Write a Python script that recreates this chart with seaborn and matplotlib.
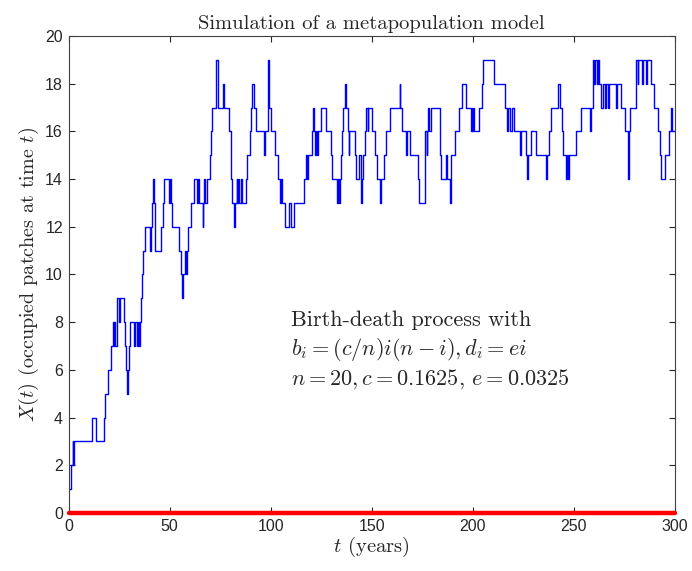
import numpy as np
import pandas as pd
import matplotlib
matplotlib.use("Agg")
import matplotlib.pyplot as plt
import seaborn as sns

# jump times (years) and the number of occupied patches right after each jump
jump_times = [0, 1.0, 2.2, 2.4, 2.7, 11.4, 13.4, 17.5, 18.3, 19.3, 21.1, 22.1, 22.4, 22.7, 23.0,
              24.1, 24.8, 25.4, 27.7, 28.2, 28.6, 29.0, 29.4, 29.9, 30.5, 32.6, 33.0, 33.8, 34.2,
              35.0, 35.4, 36.1, 36.6, 37.0, 38.0, 40.2, 40.7, 41.4, 42.0, 42.3, 42.6, 42.9, 45.8,
              46.6, 47.5, 49.8, 50.2, 50.6, 51.2, 54.7, 55.9, 56.3, 56.7, 57.5, 58.2, 58.6, 59.1,
              60.7, 62.3, 63.4, 64.0, 64.4, 66.4, 66.8, 67.3, 67.6, 68.5, 69.8, 70.6, 71.1, 72.8,
              74.2, 76.3, 77.1, 79.3, 80.5, 80.8, 81.9, 82.3, 83.2, 83.5, 84.1, 84.4, 85.4, 85.7,
              87.9, 88.4, 89.6, 90.4, 91.0, 92.0, 92.8, 96.9, 97.4, 98.6, 99.0, 99.3, 100.2, 102.2,
              103.8, 104.8, 105.2, 105.6, 107.0, 109.3, 110.1, 111.5, 116.6, 117.4, 118.2, 118.6,
              120.3, 120.8, 121.6, 122.2, 122.6, 123.0, 123.7, 125.2, 127.3, 129.8, 130.6, 133.0,
              133.5, 134.0, 134.3, 135.1, 135.5, 135.9, 136.7, 137.2, 138.4, 138.6, 139.0, 141.9,
              142.4, 143.9, 144.6, 145.1, 145.6, 146.5, 147.3, 148.0, 148.3, 150.4, 151.5, 152.9,
              154.4, 154.8, 156.0, 157.3, 159.0, 164.0, 164.3, 164.8, 167.0, 167.3, 168.9, 173.0,
              173.5, 176.3, 176.6, 177.3, 177.6, 178.0, 178.6, 179.2, 183.7, 184.5, 186.7, 187.4,
              188.6, 189.4, 191.2, 193.3, 194.8, 196.6, 199.1, 199.5, 199.8, 200.2, 200.6, 203.2,
              204.5, 205.0, 210.6, 215.9, 217.2, 217.6, 218.4, 219.5, 220.6, 223.3, 223.7, 226.6,
              226.9, 227.3, 229.0, 231.2, 236.2, 236.6, 237.8, 238.9, 242.3, 243.4, 244.2, 244.7,
              246.4, 246.7, 247.2, 247.6, 251.3, 253.8, 257.9, 258.6, 259.6, 260.0, 260.4, 261.5,
              261.9, 262.5, 263.7, 264.5, 265.6, 266.0, 266.9, 267.3, 271.1, 271.5, 273.6, 275.2,
              276.9, 277.3, 278.0, 281.0, 281.6, 282.0, 283.8, 284.3, 286.0, 286.5, 288.4, 290.0,
              291.7, 292.6, 293.4, 295.1, 297.3, 298.4, 298.9, 300.0]
patches = [1, 2, 3, 2, 3, 4, 3, 4, 5, 6, 7, 8, 7, 8, 7,
           9, 8, 9, 8, 7, 6, 5, 6, 7, 8, 7, 8, 7, 8,
           7, 8, 9, 10, 11, 12, 11, 12, 13, 14, 13, 12, 11, 12,
           13, 14, 13, 14, 13, 12, 11, 10, 9, 10, 11, 10, 11, 12,
           13, 14, 13, 14, 13, 12, 13, 14, 13, 14, 15, 16, 17, 19,
           17, 18, 17, 16, 14, 13, 12, 13, 14, 13, 14, 13, 14, 13,
           14, 15, 16, 17, 18, 17, 16, 15, 16, 19, 18, 17, 16, 15,
           14, 13, 14, 13, 12, 13, 12, 13, 14, 15, 14, 15,
           16, 17, 16, 15, 16, 15, 16, 17, 16, 15, 14, 13,
           14, 13, 14, 15, 16, 17, 18, 17, 16, 15, 16, 15,
           14, 15, 13, 14, 15, 16, 17, 16, 17, 16, 15, 14,
           13, 14, 15, 16, 17, 18, 17, 16, 15, 16, 15, 14,
           13, 14, 16, 15, 16, 17, 16, 17, 15, 14, 15, 14,
           13, 15, 16, 17, 18, 17, 16, 17, 16, 17, 16, 17,
           18, 19, 18, 17, 16, 17, 16, 17, 16, 15, 16, 15,
           14, 15, 16, 15, 14, 15, 16, 17, 18, 17, 16, 15,
           14, 15, 14, 15, 16, 17, 16, 17, 19, 18, 19, 18,
           19, 18, 17, 18, 17, 18, 17, 18, 17, 18, 17, 16,
           14, 16, 17, 19, 18, 19, 18, 19, 18, 19, 18, 17,
           16, 15, 14, 15, 16, 17, 16, 16]

x_ticks = [0, 50, 100, 150, 200, 250, 300]
y_ticks = [0, 2, 4, 6, 8, 10, 12, 14, 16, 18, 20]

sns.set_style("ticks")
plt.rcParams["font.family"] = ["Liberation Sans", "DejaVu Sans"]
plt.rcParams["mathtext.fontset"] = "cm"
plt.rcParams["axes.formatter.use_mathtext"] = False
plt.rcParams["xtick.direction"] = "in"
plt.rcParams["ytick.direction"] = "in"

frame = pd.DataFrame({"t": jump_times, "X": patches})
zeros = pd.DataFrame({"t": [0, 300], "X": [0, 0]})

fig = plt.figure(figsize=(6.92, 5.71), dpi=100)
ax = fig.add_axes([0.099, 0.1016, 0.876, 0.8354])

sns.lineplot(data=frame, x="t", y="X", ax=ax, color="#0000ff", linewidth=1.0,
             drawstyle="steps-post", estimator=None, sort=False)
sns.lineplot(data=zeros, x="t", y="X", ax=ax, color="#ff0000", linewidth=3.2,
             estimator=None, sort=False, clip_on=False, zorder=3)

ax.set_xlim(0, 300)
ax.set_ylim(0, 20)
ax.set_xticks(x_ticks)
ax.set_yticks(y_ticks)
ax.tick_params(axis="both", which="both", top=True, right=True, length=4, width=0.8,
               colors="#262626", labelsize=11.5, pad=4)
for s in ax.spines.values():
    s.set_color("#404040")
    s.set_linewidth(0.8)

ax.set_title("Simulation of a metapopulation model", family="cmr10", fontsize=14.8, pad=5)
ax.set_xlabel(r"$t$ (years)", family="cmr10", fontsize=14.8, labelpad=1)
ax.set_ylabel(r"$X(t)$ (occupied patches at time $t$)", family="cmr10", fontsize=14.5, labelpad=3)

ax.text(110, 8.1, "Birth-death process with", family="cmr10", fontsize=16, va="center")
ax.text(110, 6.85, r"$b_i = (c/n)i(n-i), d_i = ei$", family="cmr10", fontsize=16, va="center")
ax.text(110, 5.6, r"$n = 20, c =$0.1625, $e =$0.0325", family="cmr10", fontsize=16, va="center")

fig.savefig("out.png", dpi=100)
